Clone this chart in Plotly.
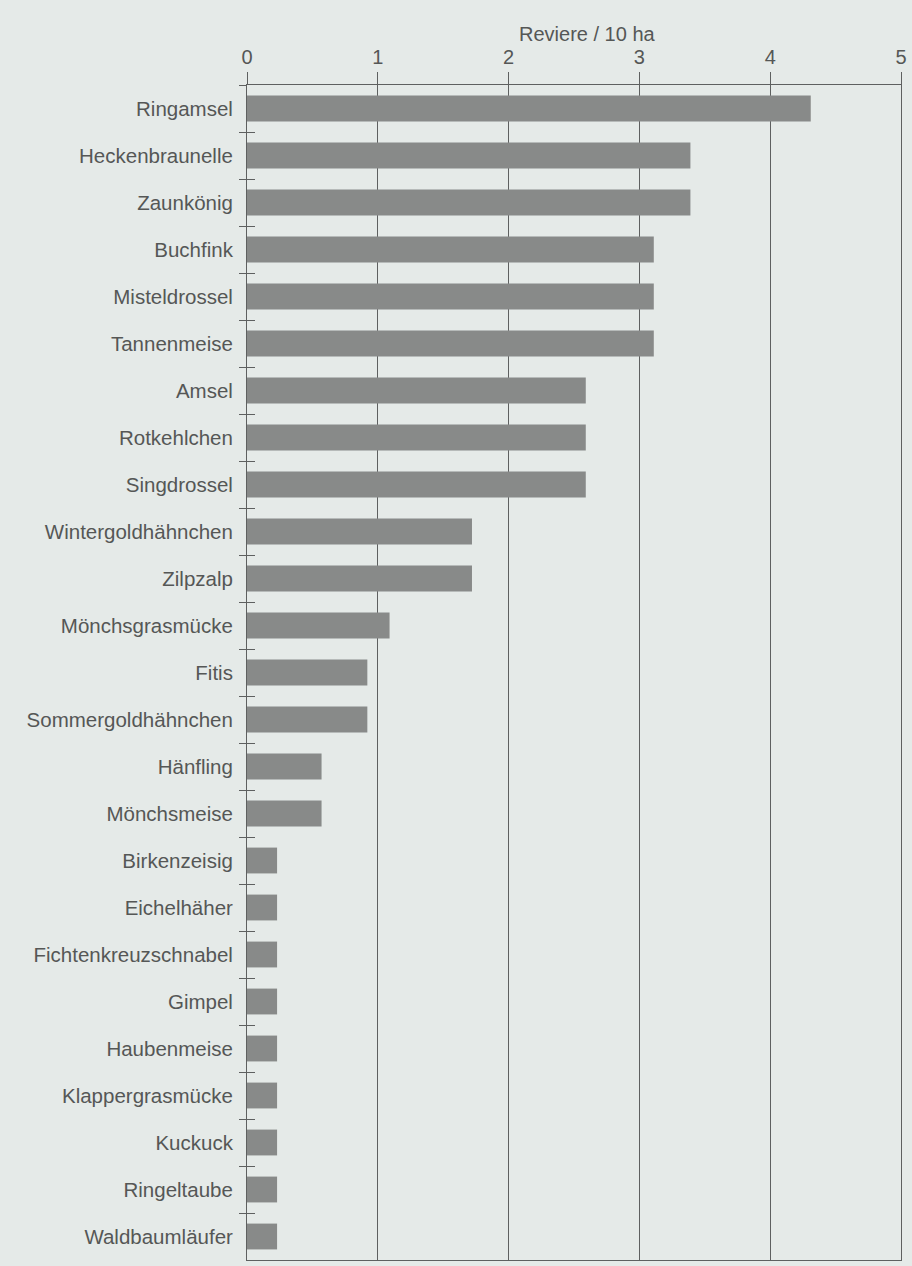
import plotly.graph_objects as go

species = [
    "Ringamsel", "Heckenbraunelle", "Zaunkönig", "Buchfink", "Misteldrossel",
    "Tannenmeise", "Amsel", "Rotkehlchen", "Singdrossel", "Wintergoldhähnchen",
    "Zilpzalp", "Mönchsgrasmücke", "Fitis", "Sommergoldhähnchen", "Hänfling",
    "Mönchsmeise", "Birkenzeisig", "Eichelhäher", "Fichtenkreuzschnabel", "Gimpel",
    "Haubenmeise", "Klappergrasmücke", "Kuckuck", "Ringeltaube", "Waldbaumläufer",
]
reviere = [
    4.31, 3.39, 3.39, 3.11, 3.11,
    3.11, 2.59, 2.59, 2.59, 1.72,
    1.72, 1.09, 0.92, 0.92, 0.57,
    0.57, 0.23, 0.23, 0.23, 0.23,
    0.23, 0.23, 0.23, 0.23, 0.23,
]
x_ticks = [0, 1, 2, 3, 4, 5]
x_title = "Reviere / 10 ha"

BG = "#e5eae8"
BAR = "#888a89"
LINE = "#5e6060"
TXT = "#555756"
FONT = "Liberation Sans"

fig = go.Figure()
fig.add_trace(go.Bar(
    x=reviere, y=species, orientation="h",
    marker=dict(color=BAR, line=dict(width=0)),
    showlegend=False, hoverinfo="x+y",
))
# transparent copy on an overlaid axis so inside-ticks can be drawn
fig.add_trace(go.Bar(
    x=reviere, y=species, orientation="h", yaxis="y2",
    marker=dict(color="rgba(0,0,0,0)", line=dict(width=0)),
    showlegend=False, hoverinfo="skip",
))

fig.update_layout(
    width=912, height=1266,
    margin=dict(l=247, r=8, t=85, b=5),
    paper_bgcolor=BG, plot_bgcolor=BG,
    bargap=0.45,
    font=dict(family=FONT, color=TXT, size=20),
    xaxis=dict(
        side="top", range=[0, 5], tickvals=x_ticks,
        ticks="outside", ticklen=12, tickcolor=LINE, tickwidth=1,
        showline=True, linecolor=LINE, linewidth=1, mirror=True,
        showgrid=True, gridcolor=LINE, gridwidth=1,
        zeroline=False,
        tickfont=dict(family=FONT, size=20, color=TXT),
        fixedrange=True,
    ),
    yaxis=dict(
        type="category", categoryorder="array", categoryarray=species,
        autorange="reversed",
        ticks="outside", ticklen=7, tickcolor=LINE, tickwidth=1,
        tickson="boundaries",
        showline=True, linecolor=LINE, linewidth=1, mirror=True,
        showgrid=False, zeroline=False,
        tickfont=dict(family=FONT, size=20.5, color=TXT),
        ticklabelstandoff=9,
        fixedrange=True,
    ),
    yaxis2=dict(
        type="category", categoryorder="array", categoryarray=species,
        overlaying="y", matches="y", side="left",
        ticks="inside", ticklen=8, tickcolor=LINE, tickwidth=1,
        tickson="boundaries", showticklabels=False,
        showline=False, showgrid=False, zeroline=False,
        fixedrange=True,
    ),
    annotations=[dict(
        text=x_title, xref="paper", yref="paper", x=0.521, y=1,
        xanchor="center", yanchor="middle", yshift=51, showarrow=False,
        font=dict(family=FONT, size=20, color=TXT),
    )],
)

fig.write_html(
    "out.html",
    config={"displayModeBar": False},
    post_script="document.body.style.margin='0';document.body.style.background='" + BG + "';",
)
